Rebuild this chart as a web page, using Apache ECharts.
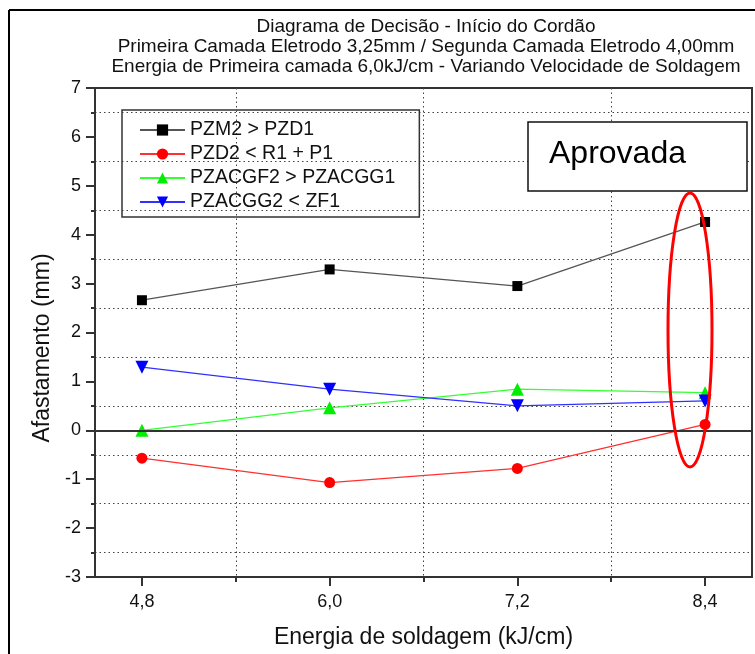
<!DOCTYPE html>
<html>
<head>
<meta charset="utf-8">
<script src="https://cdn.jsdelivr.net/npm/echarts@6/dist/echarts.min.js"></script>
<style>
  html, body { margin: 0; padding: 0; background: #fff; }
  #chart { width: 755px; height: 654px; }
</style>
</head>
<body>
<div id="chart"></div>
<script>
// Energia de soldagem (kJ/cm)
const energia = [4.8, 6.0, 7.2, 8.4];
const minorX = [5.4, 6.6, 7.8];

// Afastamento (mm) for each criterion
const pzm2_pzd1 = [2.66, 3.29, 2.95, 4.26];
const pzd2_r1p1 = [-0.57, -1.07, -0.78, 0.12];
const pzacgf2_pzacgg1 = [0.0, 0.46, 0.84, 0.77];
const pzacgg2_zf1 = [1.29, 0.84, 0.50, 0.60];

const seriesNames = ["PZM2 > PZD1", "PZD2 < R1 + P1", "PZACGF2 > PZACGG1", "PZACGG2 < ZF1"];
const titleLines = [
    "Diagrama de Decisão - Início do Cordão",
    "Primeira Camada Eletrodo 3,25mm / Segunda Camada Eletrodo 4,00mm",
    "Energia de Primeira camada 6,0kJ/cm - Variando Velocidade de Soldagem",
];

const font = "'Liberation Sans', Arial, sans-serif";
const axisColor = "#333";

const pairs = (ys) => energia.map((x, i) => [x, ys[i]]);

const chart = echarts.init(document.getElementById("chart"));

const option = {
    animation: false,
    textStyle: { fontFamily: font },
    grid: {
        left: 95,
        right: 3,
        top: 88,
        bottom: 76,
        show: true,
        borderColor: axisColor,
        borderWidth: 2,
    },
    legend: {
        orient: "vertical",
        left: 122,
        top: 110,
        padding: [10, 24, 5, 17],
        itemWidth: 45,
        itemHeight: 14,
        itemGap: 4,
        borderColor: axisColor,
        borderWidth: 1.5,
        textStyle: { fontSize: 19.5, lineHeight: 20, color: "#111", fontFamily: font },
        data: seriesNames,
    },
    xAxis: [
        {
            type: "value",
            min: 4.5,
            max: 8.7,
            name: "Energia de soldagem (kJ/cm)",
            nameLocation: "middle",
            nameGap: 49,
            nameTextStyle: { fontSize: 23, color: "#111" },
            axisLine: { onZero: false, lineStyle: { color: axisColor, width: 2 } },
            axisTick: {
                customValues: energia,
                length: 9,
                lineStyle: { color: axisColor, width: 2 },
            },
            axisLabel: {
                customValues: energia,
                margin: 16,
                fontSize: 18,
                color: "#111",
                formatter: (v) => v.toFixed(1).replace(".", ","),
            },
            splitLine: { show: false },
        },
        {
            type: "value",
            min: 4.5,
            max: 8.7,
            position: "bottom",
            axisLine: { show: false, onZero: false },
            axisLabel: { show: false },
            axisTick: {
                customValues: minorX,
                length: 5,
                lineStyle: { color: axisColor, width: 2 },
            },
            splitLine: {
                show: true,
                lineStyle: { color: "#444", width: 1, type: [1.5, 3] },
            },
        },
    ],
    yAxis: {
        type: "value",
        min: -3,
        max: 7,
        interval: 1,
        axisLine: { show: true, onZero: false, lineStyle: { color: axisColor, width: 2 } },
        axisTick: { show: true, length: 9, lineStyle: { color: axisColor, width: 2 } },
        minorTick: { show: true, splitNumber: 2, length: 4, lineStyle: { color: axisColor, width: 2 } },
        axisLabel: { margin: 14, fontSize: 18, color: "#111" },
        splitLine: { show: false },
        minorSplitLine: {
            show: true,
            lineStyle: { color: "#444", width: 1, type: [1.5, 3] },
        },
    },
    series: [
        {
            name: seriesNames[0],
            type: "line",
            data: pairs(pzm2_pzd1),
            symbol: "rect",
            symbolSize: 10,
            itemStyle: { color: "#000" },
            lineStyle: { color: "#555", width: 1.3 },
            markLine: {
                silent: true,
                symbol: "none",
                label: { show: false },
                lineStyle: { color: axisColor, width: 2, type: "solid" },
                data: [{ yAxis: 0 }],
            },
        },
        {
            name: seriesNames[1],
            type: "line",
            data: pairs(pzd2_r1p1),
            symbol: "circle",
            symbolSize: 11,
            itemStyle: { color: "#ff0000" },
            lineStyle: { color: "#ff3030", width: 1.3 },
        },
        {
            name: seriesNames[2],
            type: "line",
            data: pairs(pzacgf2_pzacgg1),
            symbol: "triangle",
            symbolSize: 13,
            itemStyle: { color: "#00ee00" },
            lineStyle: { color: "#33ff33", width: 1.3 },
        },
        {
            name: seriesNames[3],
            type: "line",
            data: pairs(pzacgg2_zf1),
            symbol: "triangle",
            symbolRotate: 180,
            symbolSize: 13,
            itemStyle: { color: "#0000ff" },
            lineStyle: { color: "#3030ff", width: 1.3 },
        },
    ],
    graphic: [
        // outer frame of the figure
        { type: "line", shape: { x1: 9, y1: 10, x2: 755, y2: 10 }, style: { stroke: "#000", lineWidth: 2 } },
        { type: "line", shape: { x1: 9, y1: 10, x2: 9, y2: 654 }, style: { stroke: "#000", lineWidth: 2 } },
        // title
        {
            type: "text",
            x: 426,
            y: 17,
            style: {
                text: titleLines.join("\n"),
                align: "center",
                fontSize: 19,
                lineHeight: 20,
                fill: "#111",
                fontFamily: font,
            },
        },
        // y axis title (sits a bit below the plot centre in the original)
        {
            type: "text",
            x: 43,
            y: 348,
            rotation: Math.PI / 2,
            style: {
                text: "Afastamento (mm)",
                align: "center",
                verticalAlign: "middle",
                fontSize: 23,
                fill: "#111",
                fontFamily: font,
            },
        },
        // "Aprovada" box
        {
            type: "rect",
            shape: { x: 528, y: 122, width: 219, height: 69 },
            style: { fill: "#fff", stroke: "#111", lineWidth: 1.5 },
            z: 10,
        },
        {
            type: "text",
            x: 549,
            y: 138,
            style: { text: "Aprovada", fontSize: 32, fill: "#000", fontFamily: font },
            z: 11,
        },
        // highlight ellipse
        {
            type: "ellipse",
            shape: { cx: 690, cy: 330, rx: 22, ry: 137 },
            style: { fill: "none", stroke: "#ff0000", lineWidth: 3 },
            z: 10,
        },
    ],
};

chart.setOption(option);
</script>
</body>
</html>
